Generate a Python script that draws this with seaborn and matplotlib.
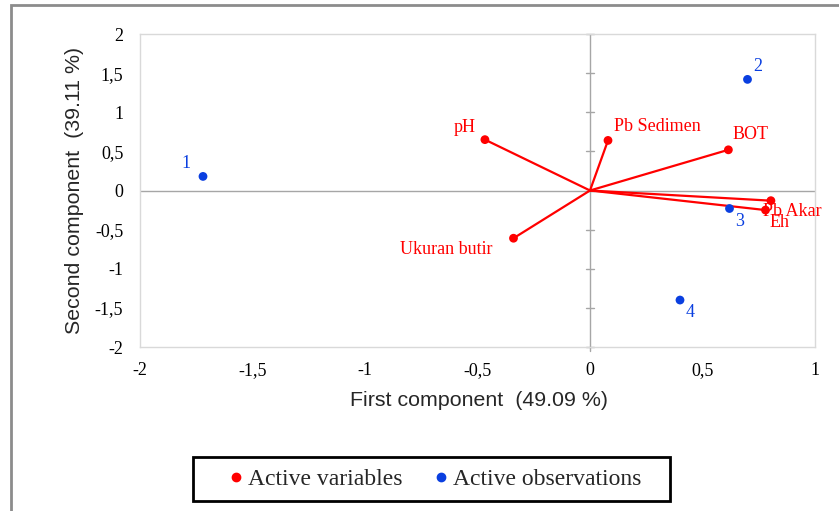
import matplotlib
matplotlib.use("Agg")
import matplotlib.pyplot as plt
import seaborn as sns
import pandas as pd
from matplotlib.patches import Rectangle
from matplotlib.lines import Line2D

sns.set_style("white")

# Data
var_names = ["pH", "Pb Sedimen", "BOT", "Pb Akar", "Eh", "Ukuran butir"]
var_f1 = [-0.467, 0.08, 0.615, 0.804, 0.78, -0.34]
var_f2 = [0.65, 0.64, 0.52, -0.13, -0.25, -0.61]

obs_names = ["1", "2", "3", "4"]
obs_f1 = [-1.72, 0.70, 0.62, 0.40]
obs_f2 = [0.18, 1.42, -0.23, -1.40]

xticks = [-2, -1.5, -1, -0.5, 0, 0.5, 1]
yticks = [-2, -1.5, -1, -0.5, 0, 0.5, 1, 1.5, 2]

RED = "#FF0000"
BLUE = "#0A3FE0"
SERIF = "Liberation Serif"
SANS = "Liberation Sans"

def fmt(v):
    return ("%g" % v).replace(".", ",")

W, H = 839, 511
fig = plt.figure(figsize=(W/100, H/100), dpi=100)
ax = fig.add_axes([140/W, 1-347/H, (815-140)/W, (347-34)/H])

# outer frame
fig.patches.append(Rectangle((11/W, -0.05), 1.0, 1-5/H+0.05, transform=fig.transFigure,
                             fill=False, edgecolor="#8c8c8c", linewidth=2.0, zorder=-10))

ax.set_xlim(-2, 1)
ax.set_ylim(-2, 2)
ax.axhline(0, color="#a6a6a6", lw=1.0, zorder=1)
ax.axvline(0, color="#a6a6a6", lw=1.0, zorder=1)

# tick marks on the vertical zero axis
for yt in yticks:
    ax.plot([-0.018, 0.018], [yt, yt], color="#a6a6a6", lw=1.0, zorder=1, clip_on=False)
ax.plot([0, 0], [-2, -2.05], color="#a6a6a6", lw=1.0, zorder=1, clip_on=False)

# variable vectors
for fx, fy in zip(var_f1, var_f2):
    ax.plot([0, fx], [0, fy], color=RED, lw=1.6, zorder=2, solid_capstyle="round")

df_var = pd.DataFrame({"F1": var_f1, "F2": var_f2, "name": var_names})
df_obs = pd.DataFrame({"F1": obs_f1, "F2": obs_f2, "name": obs_names})
sns.scatterplot(data=df_var, x="F1", y="F2", color=RED, s=40, edgecolor="none", ax=ax, zorder=3)
sns.scatterplot(data=df_obs, x="F1", y="F2", color=BLUE, s=40, edgecolor="none", ax=ax, zorder=3)

# variable labels (offsets in points)
var_offsets = {
    "pH": (-7, 9, "right", "center"),
    "Pb Sedimen": (4, 10, "left", "center"),
    "BOT": (3, 11, "left", "center"),
    "Pb Akar": (-6, -8, "left", "center"),
    "Eh": (3, -9, "left", "center"),
    "Ukuran butir": (-15, -8, "right", "center"),
}
for n, fx, fy in zip(var_names, var_f1, var_f2):
    dx, dy, ha, va = var_offsets[n]
    ax.annotate(n, (fx, fy), xytext=(dx, dy), textcoords="offset points", ha=ha, va=va,
                color=RED, fontsize=13, family=SERIF, zorder=4)

obs_offsets = {
    "1": (-9, 3, "right", "bottom"),
    "2": (4, 3, "left", "bottom"),
    "3": (4, -3, "left", "top"),
    "4": (4, -3, "left", "top"),
}
for n, fx, fy in zip(obs_names, obs_f1, obs_f2):
    dx, dy, ha, va = obs_offsets[n]
    ax.annotate(n, (fx, fy), xytext=(dx, dy), textcoords="offset points", ha=ha, va=va,
                color=BLUE, fontsize=13, family=SERIF, zorder=4)

ax.set_xticks(xticks)
ax.set_xticklabels([fmt(v) for v in xticks], family=SERIF, fontsize=13)
ax.set_yticks(yticks)
ax.set_yticklabels([fmt(v) for v in yticks], family=SERIF, fontsize=13)
ax.tick_params(axis="both", length=0, colors="#000000")
ax.tick_params(axis="y", pad=12)
ax.tick_params(axis="x", pad=11)

ax.set_xlabel("First component  (49.09 %)", family=SANS, fontsize=15.4)
ax.set_ylabel("Second component  (39.11 %)", family=SANS, fontsize=15.4)
ax.xaxis.set_label_coords(0.5015, -0.142)
ax.yaxis.set_label_coords(-0.083, 0.5)

for sp in ax.spines.values():
    sp.set_color("#d9d9d9")
    sp.set_linewidth(1.0)

# legend
handles = [
    Line2D([], [], marker="o", linestyle="none", color=RED, markersize=6, label="Active variables"),
    Line2D([], [], marker="o", linestyle="none", color=BLUE, markersize=6, label="Active observations"),
]
leg = fig.legend(handles=handles, loc="center", bbox_to_anchor=(435/W, 1-479/H),
                 ncol=2, frameon=False, prop={"family": SERIF, "size": 17},
                 handletextpad=0.2, columnspacing=1.35, handlelength=0.6, borderpad=0.0)
fig.patches.append(Rectangle((193/W, 1-501/H), (670-193)/W, 44/H, transform=fig.transFigure,
                             fill=False, edgecolor="black", linewidth=2.0, zorder=5))

fig.savefig("out.png", dpi=100)
